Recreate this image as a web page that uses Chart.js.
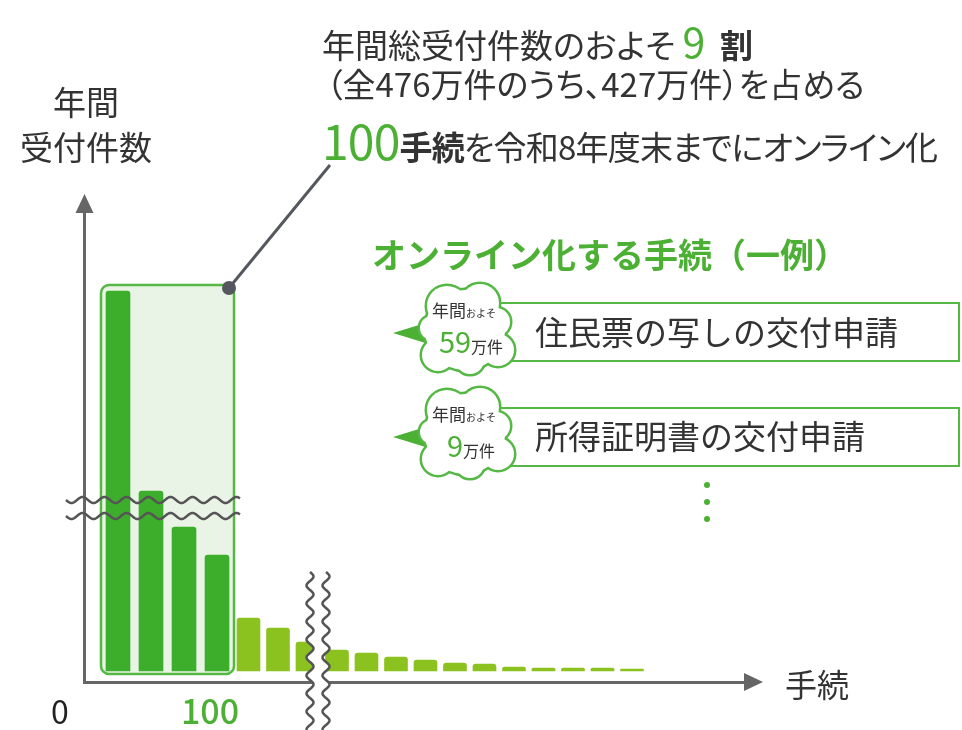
<!DOCTYPE html>
<html lang="ja">
<head>
<meta charset="utf-8">
<script src="https://cdn.jsdelivr.net/npm/chart.js@4.4.1/dist/chart.umd.min.js"></script>
<style>
  body { margin: 0; background: #fff; }
  #wrap { position: relative; width: 962px; height: 730px; overflow: hidden; }
  #chart { position: absolute; left: 0; top: 0; }
  .t { position: absolute; white-space: nowrap; line-height: 1; color: #333;
       font-family: "Noto Sans CJK JP", "Noto Sans", sans-serif; }
  .g { color: #4cb034; }
  .c { text-align: center; }
</style>
</head>
<body>
<div id="wrap">
  <canvas id="chart" width="962" height="730"></canvas>

  <div class="t" style="left:322px; top:20px; font-size:33px; font-feature-settings:'palt';">年間総受付件数のおよそ&nbsp;<span class="g" style="font-size:41px;">9</span>&nbsp;&nbsp;<b>割</b></div>
  <div class="t" style="left:326px; top:67px; font-size:33px; font-feature-settings:'palt';">（全476万件のうち、427万件）を占める</div>
  <div class="t" style="left:322px; top:115px; font-size:33px; font-feature-settings:'palt'; letter-spacing:-0.8px;"><span class="g" style="font-size:48px;">100</span><b>手続</b>を令和8年度末までにオンライン化</div>

  <div class="t c" style="left:-14px; width:200px; top:85px; font-size:33px;">年間</div>
  <div class="t c" style="left:-14px; width:200px; top:130px; font-size:33px;">受付件数</div>

  <div class="t" style="left:785px; top:667px; font-size:32px;">手続</div>

  <div class="t g" style="left:372px; top:237px; font-size:34px; font-weight:700;">オンライン化する手続（一例）</div>
</div>

<script>
// 年間受付件数の多い順に並べた手続（相対的な高さ、上位4本は省略あり）
const topValues = [380, 180, 144, 116];
const restValues = [53, 43, 29, 21, 18, 14, 11, 8, 7, 4, 3, 3, 3, 2];
const tickLabels = ["0", "100"];
const examples = ["住民票の写しの交付申請", "所得証明書の交付申請"];
const exampleCounts = ["59", "9"];

const GREEN = "#4cb034";
const AXIS = "#666";
const wrap = document.getElementById("wrap");

function addText(html, style, cls) {
  const d = document.createElement("div");
  d.className = "t " + (cls || "");
  d.style.cssText = style;
  d.innerHTML = html;
  wrap.appendChild(d);
}

// tick labels under the x axis
addText(tickLabels[0], "left:30px; width:60px; top:694px; font-size:32px; color:#222;", "c");
addText(tickLabels[1], "left:160px; width:100px; top:693px; font-size:34px; font-weight:500;", "c g");

// example rows
examples.forEach((name, i) => {
  const cy = 333 + i * 104;
  addText(name, `left:535px; top:${cy - 18}px; font-size:33px;`);
  addText('年間<span style="font-size:10px;">およそ</span>', `left:414px; width:100px; top:${cy - 32}px; font-size:17px;`, "c");
  addText(`<span class="g" style="font-size:29px;">${exampleCounts[i]}</span><span style="font-size:16px;">万件</span>`,
    `left:421px; width:100px; top:${cy - 7}px; font-size:16px;`, "c");
});

function waveH(ctx, x0, x1, y0, amp, len) {
  ctx.beginPath();
  for (let x = x0; x <= x1; x++) {
    const y = y0 + amp * Math.sin((x - x0) / len * Math.PI * 2);
    if (x === x0) ctx.moveTo(x, y); else ctx.lineTo(x, y);
  }
  ctx.stroke();
}

function wavePts(x0, y0, y1, amp, len) {
  const pts = [];
  for (let y = y0; y <= y1; y++) pts.push([x0 + amp * Math.sin((y - y0) / len * Math.PI * 2), y]);
  return pts;
}

function cloud(ctx, cx, cy) {
  const lobes = [[0, 0, 40], [-18, -24, 20], [15, -27, 19], [31, -8, 14], [33, 20, 16],
                 [5, 30, 14], [-27, 25, 16], [-33, -2, 12]];
  ctx.lineWidth = 5;
  ctx.strokeStyle = "#55b845";
  lobes.forEach(l => { ctx.beginPath(); ctx.arc(cx + l[0], cy + l[1], l[2], 0, Math.PI * 2); ctx.stroke(); });
  ctx.fillStyle = "#fff";
  lobes.forEach(l => { ctx.beginPath(); ctx.arc(cx + l[0], cy + l[1], l[2], 0, Math.PI * 2); ctx.fill(); });
}

const deco = {
  id: "deco",
  beforeDatasetsDraw(chart) {
    const ctx = chart.ctx;
    const xd = chart.scales.xTop, y = chart.scales.y;
    const l = xd.getPixelForValue(1) - 17, r = xd.getPixelForValue(topValues.length) + 17;
    const t = y.getPixelForValue(386), b = y.getPixelForValue(-3);
    ctx.save();
    ctx.beginPath();
    ctx.roundRect(l, t, r - l, b - t, 8);
    ctx.fillStyle = "#e9f3e6";
    ctx.fill();
    ctx.lineWidth = 2.5;
    ctx.strokeStyle = "#55b845";
    ctx.stroke();
    ctx.restore();
  },
  afterDraw(chart) {
    const ctx = chart.ctx;
    const ca = chart.chartArea;
    const xd = chart.scales.xTop, y = chart.scales.y;
    ctx.save();

    // x axis break (vertical waves)
    const w1 = wavePts(310, 572, 730, 3.5, 18), w2 = wavePts(326, 572, 730, 3.5, 18);
    ctx.beginPath();
    w1.forEach((p, i) => i ? ctx.lineTo(p[0], p[1]) : ctx.moveTo(p[0], p[1]));
    w2.slice().reverse().forEach(p => ctx.lineTo(p[0], p[1]));
    ctx.closePath();
    ctx.fillStyle = "#fff";
    ctx.fill();
    ctx.strokeStyle = "#555";
    ctx.lineWidth = 2.5;
    [w1, w2].forEach(w => {
      ctx.beginPath();
      w.forEach((p, i) => i ? ctx.lineTo(p[0], p[1]) : ctx.moveTo(p[0], p[1]));
      ctx.stroke();
    });

    // y axis break
    waveH(ctx, 66, 240, 500, 3, 22);
    waveH(ctx, 66, 240, 516, 3, 22);

    // arrows
    ctx.fillStyle = AXIS;
    ctx.beginPath();
    ctx.moveTo(ca.left + 0.5, 194); ctx.lineTo(ca.left - 8.5, 213); ctx.lineTo(ca.left + 9.5, 213);
    ctx.fill();
    ctx.beginPath();
    ctx.moveTo(763, ca.bottom); ctx.lineTo(744, ca.bottom - 9); ctx.lineTo(744, ca.bottom + 9);
    ctx.fill();

    // leader line and dot
    const dx = xd.getPixelForValue(topValues.length) + 12, dy = y.getPixelForValue(383);
    ctx.strokeStyle = "#54585e";
    ctx.lineWidth = 3;
    ctx.beginPath(); ctx.moveTo(dx, dy); ctx.lineTo(330, 165); ctx.stroke();
    ctx.fillStyle = "#54585e";
    ctx.beginPath(); ctx.arc(dx, dy, 7, 0, Math.PI * 2); ctx.fill();

    // example rows with bubbles
    examples.forEach((name, i) => {
      const top = 303 + i * 105;
      const cy = 330 + i * 104;
      ctx.strokeStyle = "#55b845";
      ctx.lineWidth = 2;
      ctx.strokeRect(480, top, 479, 58);
      ctx.fillStyle = GREEN;
      ctx.beginPath();
      ctx.moveTo(393, cy + 3); ctx.lineTo(432, cy - 9); ctx.lineTo(432, cy + 15);
      ctx.fill();
      cloud(ctx, 465, cy);
    });

    // more items
    ctx.fillStyle = GREEN;
    [485, 502, 519].forEach(py => { ctx.beginPath(); ctx.arc(707, py, 3, 0, Math.PI * 2); ctx.fill(); });
    ctx.restore();
  }
};

new Chart(document.getElementById("chart"), {
  type: "bar",
  data: {
    datasets: [{
      data: topValues.map((v, i) => ({ x: i + 1, y: v })),
      xAxisID: "xTop",
      backgroundColor: "#3dae2b",
      barThickness: 24,
      grouped: false,
      borderRadius: { topLeft: 3, topRight: 3, bottomLeft: 0, bottomRight: 0 },
      borderSkipped: "start"
    }, {
      data: restValues.map((v, i) => ({ x: i + topValues.length + 1, y: v })),
      xAxisID: "x",
      backgroundColor: "#8cc21f",
      barThickness: 23,
      grouped: false,
      borderRadius: { topLeft: 3, topRight: 3, bottomLeft: 0, bottomRight: 0 },
      borderSkipped: "start"
    }]
  },
  options: {
    responsive: false,
    animation: false,
    layout: { padding: { left: 84, right: 207, top: 200, bottom: 48 } },
    plugins: { legend: { display: false }, tooltip: { enabled: false } },
    scales: {
      x: {
        type: "linear", min: -0.576, max: 22.17, offset: false,
        grid: { display: false, drawTicks: false },
        ticks: { display: false },
        border: { display: true, color: AXIS, width: 3 }
      },
      xTop: { type: "linear", min: -0.03, max: 20.3, offset: false, display: false },
      y: {
        min: -11, max: 471,
        grid: { display: false, drawTicks: false },
        ticks: { display: false },
        border: { display: true, color: AXIS, width: 3 }
      }
    }
  },
  plugins: [deco]
});
</script>
</body>
</html>
